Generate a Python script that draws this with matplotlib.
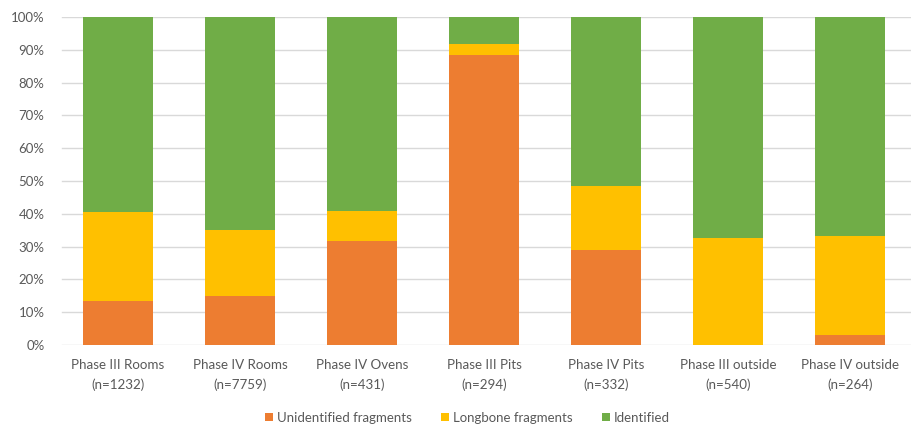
import matplotlib
matplotlib.use("Agg")
import matplotlib.pyplot as plt
from matplotlib.ticker import PercentFormatter
import numpy as np

categories = ["Phase III Rooms\n(n=1232)", "Phase IV Rooms\n(n=7759)", "Phase IV Ovens\n(n=431)",
              "Phase III Pits\n(n=294)", "Phase IV Pits\n(n=332)", "Phase III outside\n(n=540)",
              "Phase IV outside\n(n=264)"]
unidentified = [13.4, 14.9, 31.7, 88.4, 28.9, 0.0, 3.1]
longbone = [27.1, 20.1, 9.1, 3.4, 19.5, 32.6, 30.1]
identified = [100 - u - l for u, l in zip(unidentified, longbone)]

series = [("Unidentified fragments", unidentified, "#ED7D31"),
          ("Longbone fragments", longbone, "#FFC000"),
          ("Identified", identified, "#70AD47")]

plt.rcParams['font.family'] = ['Lato', 'DejaVu Sans']
text_color = "#595959"

fig = plt.figure(figsize=(9.13, 4.36), dpi=100)
ax = fig.add_axes([0.0624, 0.2087, 0.9354, 0.7523])

x = np.arange(len(categories))
bottom = np.zeros(len(categories))
for name, vals, color in series:
    ax.bar(x, vals, bottom=bottom, width=0.575, color=color, label=name, zorder=2)
    bottom += np.array(vals)

ax.set_xlim(-0.5, len(categories) - 0.5)
ax.set_ylim(0, 100)
yticks = np.arange(0, 101, 10)
ax.set_yticks(yticks)
ax.yaxis.set_major_formatter(PercentFormatter(decimals=0))
ax.set_xticks(x)
ax.set_xticklabels(categories, fontsize=9.6, color=text_color, linespacing=1.75)
ax.tick_params(axis='y', labelsize=9.5, colors=text_color, length=0, pad=9)
ax.tick_params(axis='x', length=0, pad=10)
# horizontal gridlines, starting slightly right of the axis edge
for yv in yticks:
    ax.axhline(yv, xmin=0.006, xmax=1.0, color="#D9D9D9", linewidth=1, zorder=0)
for s in ax.spines.values():
    s.set_visible(False)

fig.legend(loc="center", bbox_to_anchor=(0.512, 0.042), ncol=3, frameon=False,
           fontsize=9.5, labelcolor=text_color, handlelength=0.6, handleheight=0.6,
           handletextpad=0.3, columnspacing=2.2)

fig.savefig("out.png", dpi=100)
